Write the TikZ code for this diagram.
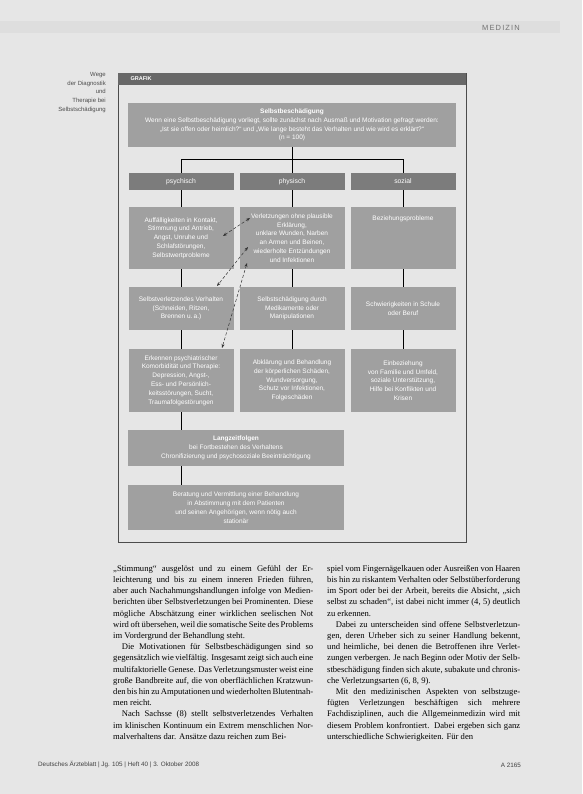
\documentclass[tikz,border=0pt]{standalone}
\usepackage{fontspec}
\setmainfont{Liberation Serif}
\setsansfont{Liberation Sans}
\usetikzlibrary{arrows.meta}

\definecolor{papier}{HTML}{E6E6E6}
\definecolor{feldgrau}{HTML}{A0A0A0}
\definecolor{kopfgrau}{HTML}{7C7C7C}
\definecolor{balken}{HTML}{686868}

\begin{document}
\begin{tikzpicture}[x=1pt,y=-1pt,
	feldtext/.style={text=white, font=\sffamily\fontsize{6.5}{8.8}\selectfont, align=center},
	feld/.style={feldtext, fill=feldgrau, inner sep=2pt},
	kopf/.style={fill=kopfgrau, text=white, font=\sffamily\fontsize{6.8}{8}\selectfont, minimum width=105pt, minimum height=17pt, inner sep=0pt},
	linie/.style={line width=.7pt},
	pfeil/.style={densely dashed, line width=.5pt, black!80, {Stealth[length=4pt]}-{Stealth[length=4pt]}},
	spalte/.style={anchor=north west, inner sep=0pt, align=justify, font=\fontsize{8.6}{11.2}\selectfont}]
			\useasboundingbox (0,0) rectangle (582,794);
			\fill[papier] (0,0) rectangle (582,794);
			
			% Kopfzeile
			\fill[black!13] (0,21) rectangle (560,33);
			\node[text=black!55, font=\sffamily\fontsize{7.5}{8}\selectfont\addfontfeature{LetterSpace=15}] (ressort) at (501,28) {MEDIZIN};
			
			% Randnotiz
			\node[anchor=north east, align=right, inner sep=0pt, text=black!70, font=\sffamily\fontsize{6}{8.8}\selectfont] (notiz) at (106,72) {Wege\\der Diagnostik\\und\\Therapie bei\\Selbstschädigung};
			
			% Grafik
			\draw[line width=.4pt, black!70] (118,73) rectangle (466,542);
			\fill[balken] (118,73) rectangle (466,85);
			\node[anchor=west, text=white, font=\sffamily\bfseries\fontsize{5.5}{6}\selectfont] (grafik) at (127,79) {GRAFIK};
			
			\node[feld, minimum width=328pt, minimum height=44pt] (sb) at (292,125) {\textbf{Selbstbeschädigung}\\Wenn eine Selbstbeschädigung vorliegt, sollte zunächst nach Ausmaß und Motivation gefragt werden:\\„Ist sie offen oder heimlich?“ und „Wie lange besteht das Verhalten und wie wird es erklärt?“\\(n = 100)};
			
			\node[kopf] (ka) at (181,181.5) {psychisch};
			\node[kopf] (kb) at (292,181.5) {physisch};
			\node[kopf] (kc) at (403,181.5) {sozial};
			
			\node[feld, minimum width=105pt, minimum height=62pt] (r1a) at (181,238) {Auffälligkeiten in Kontakt,\\Stimmung und Antrieb,\\Angst, Unruhe und\\Schlafstörungen,\\Selbstwertprobleme};
			\node[feld, minimum width=105pt, minimum height=62pt] (r1b) at (292,238) {Verletzungen ohne plausible\\Erklärung,\\unklare Wunden, Narben\\an Armen und Beinen,\\wiederholte Entzündungen\\und Infektionen};
			\node[feld, minimum width=105pt, minimum height=62pt, label={[feldtext, anchor=north, yshift=-5pt]north:Beziehungsprobleme}] (r1c) at (403,238) {};
			
			\node[feld, minimum width=105pt, minimum height=43pt] (r2a) at (181,308.5) {Selbstverletzendes Verhalten\\(Schneiden, Ritzen,\\Brennen u.\,a.)};
			\node[feld, minimum width=105pt, minimum height=43pt] (r2b) at (292,308.5) {Selbstschädigung durch\\Medikamente oder\\Manipulationen};
			\node[feld, minimum width=105pt, minimum height=43pt] (r2c) at (403,308.5) {Schwierigkeiten in Schule\\oder Beruf};
			
			\node[feld, minimum width=105pt, minimum height=63pt] (r3a) at (181,380.5) {Erkennen psychiatrischer\\Komorbidität und Therapie:\\Depression, Angst-,\\Ess- und Persönlich-\\keitsstörungen, Sucht,\\Traumafolgestörungen};
			\node[feld, minimum width=105pt, minimum height=63pt] (r3b) at (292,380.5) {Abklärung und Behandlung\\der körperlichen Schäden,\\Wundversorgung,\\Schutz vor Infektionen,\\Folgeschäden};
			\node[feld, minimum width=105pt, minimum height=63pt] (r3c) at (403,380.5) {Einbeziehung\\von Familie und Umfeld,\\soziale Unterstützung,\\Hilfe bei Konflikten und\\Krisen};
			
			\node[feld, minimum width=216pt, minimum height=36pt] (lz) at (236,448) {\textbf{Langzeitfolgen}\\bei Fortbestehen des Verhaltens\\Chronifizierung und psychosoziale Beeinträchtigung};
			\node[feld, minimum width=216pt, minimum height=45pt] (beratung) at (236,507.5) {Beratung und Vermittlung einer Behandlung\\in Abstimmung mit dem Patienten\\und seinen Angehörigen, wenn nötig auch\\stationär};
			
			\draw[linie] (sb.south) -- (kb.north);
			\draw[linie] (ka.north) -- ++(0,-13) -| (kc.north);
			\foreach \s in {a,b,c} {
				\draw[linie] (k\s.south) -- (r1\s.north);
				\draw[linie] (r1\s.south) -- (r2\s.north);
				\draw[linie] (r2\s.south) -- (r3\s.north);
			}
			\draw[linie] (r3a.south) -- (r3a.south |- lz.north);
			\draw[linie] (lz.south -| r3a.south) -- (r3a.south |- beratung.north);
			
			\coordinate (p1) at (223,236); \coordinate (p2) at (250,218);
			\coordinate (p3) at (248,247); \coordinate (p4) at (217,286);
			\coordinate (p5) at (247,263); \coordinate (p6) at (222,348);
			\draw[pfeil] (p1) -- (p2);
			\draw[pfeil] (p3) -- (p4);
			\draw[pfeil] (p5) -- (p6);
			
			% Fliesstext
			\node[spalte, text width=200pt] (links) at (113,565) {„Stimmung“ ausgelöst und zu einem Gefühl der Erleichterung und bis zu einem inneren Frieden führen, aber auch Nachahmungshandlungen infolge von Medienberichten über Selbstverletzungen bei Prominenten. Diese mögliche Abschätzung einer wirklichen seelischen Not wird oft übersehen, weil die somatische Seite des Problems im Vordergrund der Behandlung steht.\par
			\hspace*{1em}Die Motivationen für Selbstbeschädigungen sind so gegensätzlich wie vielfältig. Insgesamt zeigt sich auch eine multifaktorielle Genese. Das Verletzungsmuster weist eine große Bandbreite auf, die von oberflächlichen Kratzwunden bis hin zu Amputationen und wiederholten Blutentnahmen reicht.\par
			\hspace*{1em}Nach Sachsse (8) stellt selbstverletzendes Verhalten im klinischen Kontinuum ein Extrem menschlichen Normalverhaltens dar. Ansätze dazu reichen zum Bei-};
			\node[spalte, text width=193pt] (rechts) at (327,565) {spiel vom Fingernägelkauen oder Ausreißen von Haaren bis hin zu riskantem Verhalten oder Selbstüberforderung im Sport oder bei der Arbeit, bereits die Absicht, „sich selbst zu schaden“, ist dabei nicht immer (4, 5) deutlich zu erkennen.\par
			\hspace*{1em}Dabei zu unterscheiden sind offene Selbstverletzungen, deren Urheber sich zu seiner Handlung bekennt, und heimliche, bei denen die Betroffenen ihre Verletzungen verbergen. Je nach Beginn oder Motiv der Selbstbeschädigung finden sich akute, subakute und chronische Verletzungsarten (6, 8, 9).\par
			\hspace*{1em}Mit den medizinischen Aspekten von selbstzugefügten Verletzungen beschäftigen sich mehrere Fachdisziplinen, auch die Allgemeinmedizin wird mit diesem Problem konfrontiert. Dabei ergeben sich ganz unterschiedliche Schwierigkeiten. Für den};
			
			% Fusszeile
			\node[anchor=west, inner sep=0pt, text=black!75, font=\sffamily\fontsize{6.3}{7}\selectfont] (quelle) at (38,765) {Deutsches Ärzteblatt | Jg. 105 | Heft 40 | 3. Oktober 2008};
			\node[anchor=east, inner sep=0pt, text=black!75, font=\sffamily\fontsize{6.3}{7}\selectfont] (seite) at (521,765) {A 2165};
			\end{tikzpicture}
\end{document}
